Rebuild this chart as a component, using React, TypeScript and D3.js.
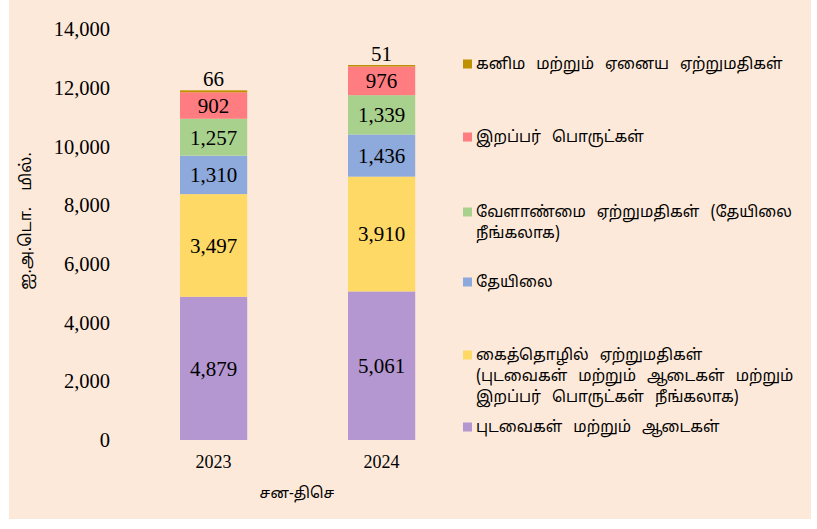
import { useEffect, useRef } from "react";
import * as d3 from "d3";

const years = ["2023", "2024"];
const textiles = [4879, 5061];
const industrial = [3497, 3910];
const tea = [1310, 1436];
const agri = [1257, 1339];
const rubber = [902, 976];
const gems = [66, 51];

const seriesKeys = ["textiles", "industrial", "tea", "agri", "rubber", "gems"];
const seriesColors = ["#B497D0", "#FFD966", "#8EA9DB", "#A9D18E", "#FF7C80", "#BF9000"];
const seriesLabels = [
  ["புடவைகள் மற்றும் ஆடைகள்"],
  ["கைத்தொழில் ஏற்றுமதிகள்", "(புடவைகள் மற்றும் ஆடைகள் மற்றும்", "இறப்பர் பொருட்கள் நீங்கலாக)"],
  ["தேயிலை"],
  ["வேளாண்மை ஏற்றுமதிகள் (தேயிலை", "நீங்கலாக)"],
  ["இறப்பர் பொருட்கள்"],
  ["கனிம மற்றும் ஏனைய ஏற்றுமதிகள்"],
];
const yTicks = [0, 2000, 4000, 6000, 8000, 10000, 12000, 14000];
const yTitle = "ஐ.அ.டொ. மில்.";
const xTitle = "சன-திசெ";

const W = 817;
const H = 529;
const serif = "'Liberation Serif', 'Times New Roman', serif";
const tamil = "Latha, 'Noto Sans Tamil', 'Lohit Tamil', sans-serif";

export default function App() {
  const ref = useRef<SVGSVGElement>(null);

  useEffect(() => {
    const svg = d3.select(ref.current);
    svg.selectAll("*").remove();

    svg.append("rect")
      .attr("x", 9).attr("y", 0)
      .attr("width", 802).attr("height", 519)
      .attr("fill", "#FDE9D9");

    const table = years.map((yr, i) => ({
      year: yr,
      textiles: textiles[i],
      industrial: industrial[i],
      tea: tea[i],
      agri: agri[i],
      rubber: rubber[i],
      gems: gems[i],
    }));

    const stacked = d3.stack<any>().keys(seriesKeys)(table);

    const x = d3.scaleBand()
      .domain(years)
      .range([146.4, 448.8])
      .paddingInner(0.6)
      .paddingOuter(0.2);

    const y = d3.scaleLinear().domain([0, 14000]).range([440, 29]);

    // y ticks
    svg.append("g")
      .selectAll("text")
      .data(yTicks)
      .join("text")
      .attr("x", 110)
      .attr("y", d => y(d))
      .attr("dy", "0.35em")
      .attr("text-anchor", "end")
      .attr("font-family", serif)
      .attr("font-size", 20.5)
      .attr("fill", "#000")
      .text(d => d3.format(",")(d));

    // bars
    const layers = svg.append("g")
      .selectAll("g")
      .data(stacked)
      .join("g")
      .attr("fill", (_, i) => seriesColors[i]);

    layers.selectAll("rect")
      .data(d => d.map(v => ({ v, key: d.key })))
      .join("rect")
      .attr("x", d => x(d.v.data.year)!)
      .attr("width", x.bandwidth())
      .attr("y", d => y(d.v[1]))
      .attr("height", d => y(d.v[0]) - y(d.v[1]));

    // value labels
    const fmt = d3.format(",");
    stacked.forEach((layer, li) => {
      const top = li === stacked.length - 1;
      svg.append("g")
        .selectAll("text")
        .data(layer)
        .join("text")
        .attr("x", d => x(d.data.year)! + x.bandwidth() / 2)
        .attr("y", d => top ? y(d[1]) - 4 : (y(d[0]) + y(d[1])) / 2)
        .attr("dy", top ? "0" : "0.35em")
        .attr("text-anchor", "middle")
        .attr("font-family", serif)
        .attr("font-size", 21)
        .attr("fill", "#000")
        .text(d => fmt(d[1] - d[0]));
    });

    // x labels
    svg.append("g")
      .selectAll("text")
      .data(years)
      .join("text")
      .attr("x", d => x(d)! + x.bandwidth() / 2)
      .attr("y", 462)
      .attr("dy", "0.35em")
      .attr("text-anchor", "middle")
      .attr("font-family", serif)
      .attr("font-size", 18)
      .attr("fill", "#000")
      .text(d => d);

    svg.append("text")
      .attr("x", 297).attr("y", 493)
      .attr("dy", "0.35em")
      .attr("text-anchor", "middle")
      .attr("font-family", tamil)
      .attr("font-size", 15)
      .attr("fill", "#000")
      .text(xTitle);

    svg.append("text")
      .attr("transform", "translate(25,221) rotate(-90)")
      .attr("dy", "0.35em")
      .attr("text-anchor", "middle")
      .attr("font-family", tamil)
      .attr("font-size", 16)
      .attr("word-spacing", 12)
      .attr("fill", "#000")
      .text(yTitle);

    // legend (top entry first)
    const legendY = [427, 355, 282, 212, 137, 64];
    const lineH = 21;
    const lg = svg.append("g");
    seriesKeys.forEach((_, i) => {
      const g = lg.append("g");
      g.append("rect")
        .attr("x", 463).attr("y", legendY[i] - 4.5)
        .attr("width", 9).attr("height", 9)
        .attr("fill", seriesColors[i]);
      g.selectAll("text")
        .data(seriesLabels[i])
        .join("text")
        .attr("x", 476)
        .attr("y", (_, j) => legendY[i] + j * lineH)
        .attr("dy", "0.35em")
        .attr("font-family", tamil)
        .attr("font-size", 15.5)
        .attr("word-spacing", 7)
        .attr("fill", "#000")
        .text(d => d);
    });
  }, []);

  return (
    <svg
      ref={ref}
      width={W}
      height={H}
      style={{ position: "absolute", left: 0, top: 0 }}
    />
  );
}
